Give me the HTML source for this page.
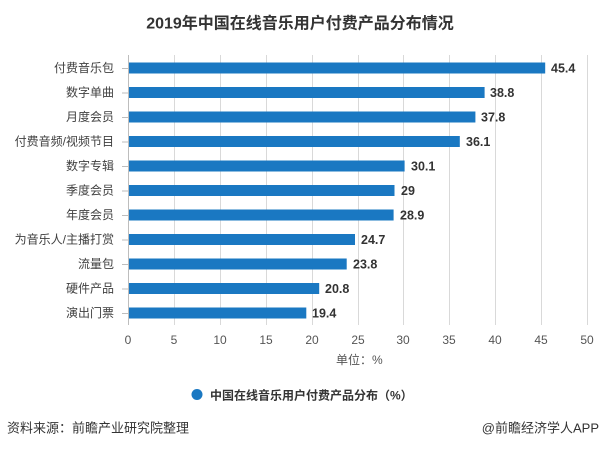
<!DOCTYPE html>
<html>
<head>
<meta charset="utf-8">
<style>
html,body{margin:0;padding:0;background:#fff;}
body{width:600px;height:449px;overflow:hidden;}
svg{display:block;font-family:"Liberation Sans","Noto Sans CJK SC",sans-serif;}
</style>
</head>
<body>
<svg width="600" height="449" viewBox="0 0 600 449" xmlns="http://www.w3.org/2000/svg">
  <rect width="600" height="449" fill="#fff"/>
  <!-- title -->
  <text x="300" y="24" text-anchor="middle" dominant-baseline="central" font-size="16" font-weight="bold" fill="#333">2019年中国在线音乐用户付费产品分布情况</text>

  <!-- gridlines -->
  <g stroke="#d9d9d9" stroke-width="1">
    <line x1="174.5" y1="55" x2="174.5" y2="325"/>
    <line x1="220.5" y1="55" x2="220.5" y2="325"/>
    <line x1="266.5" y1="55" x2="266.5" y2="325"/>
    <line x1="312.5" y1="55" x2="312.5" y2="325"/>
    <line x1="358.5" y1="55" x2="358.5" y2="325"/>
    <line x1="403.5" y1="55" x2="403.5" y2="325"/>
    <line x1="449.5" y1="55" x2="449.5" y2="325"/>
    <line x1="495.5" y1="55" x2="495.5" y2="325"/>
    <line x1="541.5" y1="55" x2="541.5" y2="325"/>
    <line x1="587.5" y1="55" x2="587.5" y2="325"/>
  </g>
  <!-- axis -->
  <line x1="128.5" y1="55" x2="128.5" y2="325" stroke="#bdbdbd" stroke-width="1"/>
  <g stroke="#bdbdbd" stroke-width="1">
    <line x1="122" y1="68.5" x2="128" y2="68.5"/>
    <line x1="122" y1="93" x2="128" y2="93"/>
    <line x1="122" y1="117.5" x2="128" y2="117.5"/>
    <line x1="122" y1="142" x2="128" y2="142"/>
    <line x1="122" y1="166.5" x2="128" y2="166.5"/>
    <line x1="122" y1="191" x2="128" y2="191"/>
    <line x1="122" y1="215.5" x2="128" y2="215.5"/>
    <line x1="122" y1="240" x2="128" y2="240"/>
    <line x1="122" y1="264.5" x2="128" y2="264.5"/>
    <line x1="122" y1="289" x2="128" y2="289"/>
    <line x1="122" y1="313.5" x2="128" y2="313.5"/>
  </g>

  <!-- bars -->
  <g fill="#1a78c2">
    <rect x="129" y="62.5" width="416.2" height="11"/>
    <rect x="129" y="87" width="355.6" height="11"/>
    <rect x="129" y="111.5" width="346.4" height="11"/>
    <rect x="129" y="136" width="330.8" height="11"/>
    <rect x="129" y="160.5" width="275.6" height="11"/>
    <rect x="129" y="185" width="265.5" height="11"/>
    <rect x="129" y="209.5" width="264.6" height="11"/>
    <rect x="129" y="234" width="226" height="11"/>
    <rect x="129" y="258.5" width="217.7" height="11"/>
    <rect x="129" y="283" width="190.2" height="11"/>
    <rect x="129" y="307.5" width="177.3" height="11"/>
  </g>

  <!-- category labels -->
  <g font-size="12" fill="#404040" text-anchor="end" dominant-baseline="central">
    <text x="114" y="68">付费音乐包</text>
    <text x="114" y="92.5">数字单曲</text>
    <text x="114" y="117">月度会员</text>
    <text x="114" y="141.5">付费音频/视频节目</text>
    <text x="114" y="166">数字专辑</text>
    <text x="114" y="190.5">季度会员</text>
    <text x="114" y="215">年度会员</text>
    <text x="114" y="239.5">为音乐人/主播打赏</text>
    <text x="114" y="264">流量包</text>
    <text x="114" y="288.5">硬件产品</text>
    <text x="114" y="313">演出门票</text>
  </g>

  <!-- value labels -->
  <g font-size="12.5" font-weight="bold" fill="#333" dominant-baseline="central">
    <text x="551" y="68.5">45.4</text>
    <text x="490" y="93">38.8</text>
    <text x="481" y="117.5">37.8</text>
    <text x="466" y="142">36.1</text>
    <text x="411" y="166.5">30.1</text>
    <text x="401" y="191">29</text>
    <text x="400" y="215.5">28.9</text>
    <text x="361" y="240">24.7</text>
    <text x="353" y="264.5">23.8</text>
    <text x="325" y="289">20.8</text>
    <text x="312" y="313.5">19.4</text>
  </g>

  <!-- x tick labels -->
  <g font-size="12" fill="#555" text-anchor="middle" dominant-baseline="central">
    <text x="128" y="340">0</text>
    <text x="174" y="340">5</text>
    <text x="220" y="340">10</text>
    <text x="266" y="340">15</text>
    <text x="312" y="340">20</text>
    <text x="358" y="340">25</text>
    <text x="403" y="340">30</text>
    <text x="449" y="340">35</text>
    <text x="495" y="340">40</text>
    <text x="541" y="340">45</text>
    <text x="587" y="340">50</text>
  </g>

  <!-- unit -->
  <text x="336" y="360" font-size="12" fill="#555" dominant-baseline="central">单位：%</text>

  <!-- legend -->
  <circle cx="197" cy="394.5" r="5.5" fill="#1a78c2"/>
  <text x="210" y="395.5" font-size="12" font-weight="bold" fill="#333" dominant-baseline="central">中国在线音乐用户付费产品分布（%）</text>

  <!-- footer -->
  <text x="7" y="428" font-size="13" fill="#333" dominant-baseline="central">资料来源：前瞻产业研究院整理</text>
  <text x="599" y="428" font-size="13" fill="#333" text-anchor="end" dominant-baseline="central">@前瞻经济学人APP</text>
</svg>
</body>
</html>
